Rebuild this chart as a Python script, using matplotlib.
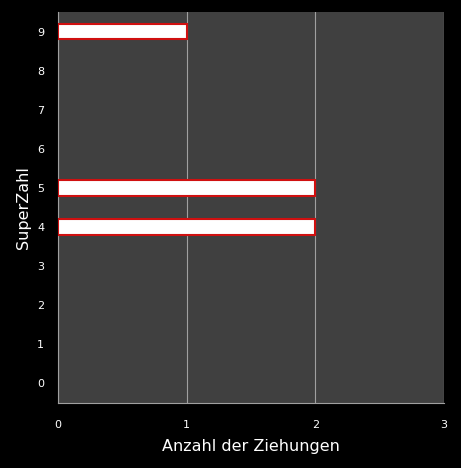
import matplotlib
matplotlib.use("Agg")
import matplotlib.pyplot as plt

# SuperZahl categories and number of draws
superzahl = list(range(10))
ziehungen = [0, 0, 0, 0, 2, 2, 0, 0, 0, 1]

fig = plt.figure(figsize=(4.61, 4.68), dpi=100, facecolor="black")
ax = fig.add_axes([58 / 461, 1 - 403 / 468, 386 / 461, 391 / 468])
ax.set_facecolor("#404040")

# zero-count rows get no outline
edges = ["#d01010" if v > 0 else "none" for v in ziehungen]
ax.barh(superzahl, ziehungen, height=0.4, color="white",
        edgecolor=edges, linewidth=1.5, zorder=3)

ax.set_xlim(0, 3)
ax.set_ylim(-0.5, 9.5)
ax.set_xticks([0, 1, 2, 3])
ax.set_yticks(superzahl)

ax.grid(axis="x", color="#a0a0a0", linewidth=0.8, zorder=1)

for side in ("top", "right"):
    ax.spines[side].set_visible(False)
for side in ("left", "bottom"):
    ax.spines[side].set_color("#a0a0a0")
    ax.spines[side].set_linewidth(0.8)

ax.tick_params(colors="white", labelsize=8, length=0, pad=12)
ax.tick_params(axis="y", pad=10)

ax.set_xlabel("Anzahl der Ziehungen", color="white", fontsize=11.5, labelpad=7)
ax.set_ylabel("SuperZahl", color="white", fontsize=11.5)
ax.yaxis.set_label_coords(-0.07, 0.5)

fig.savefig("out.png", dpi=100, facecolor="black")
